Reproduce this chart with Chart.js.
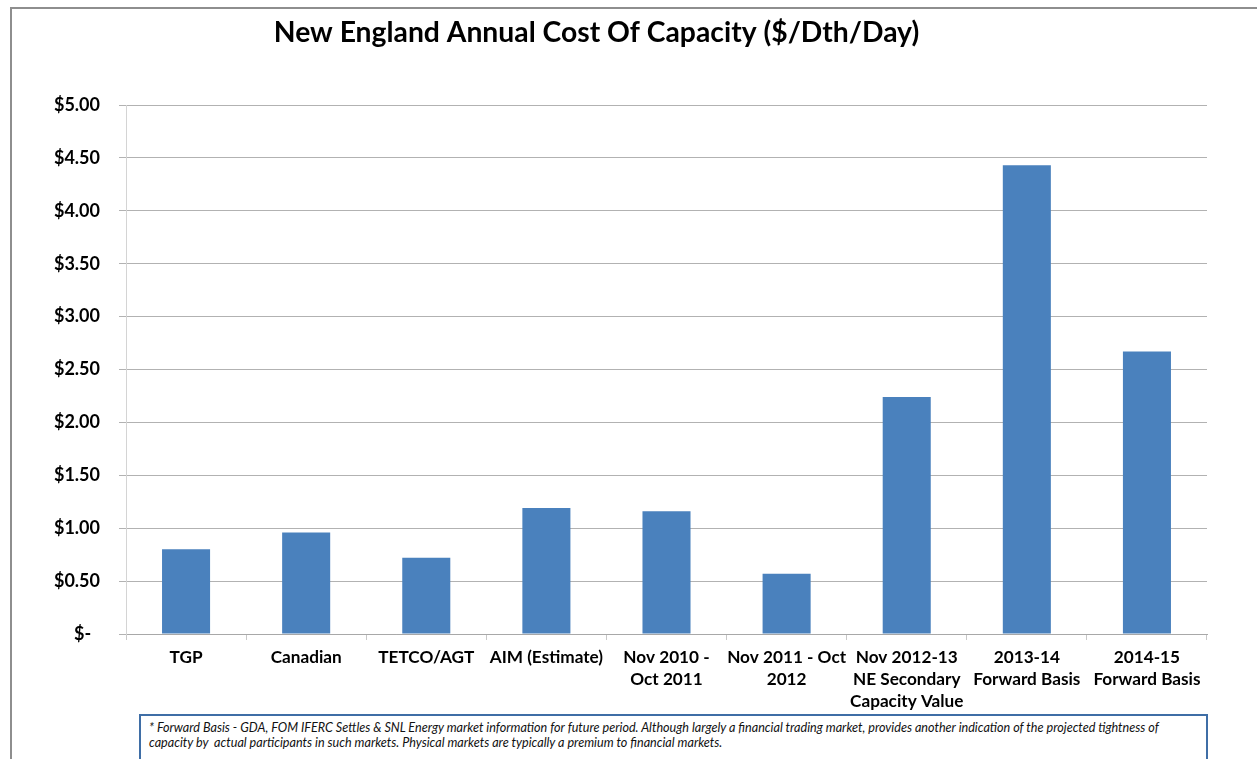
<!DOCTYPE html>
<html>
<head>
<meta charset="utf-8">
<script src="https://cdn.jsdelivr.net/npm/chart.js@4.4.1/dist/chart.umd.min.js"></script>
<style>
  html, body { margin: 0; padding: 0; background: #ffffff; }
  #wrap { position: relative; width: 1257px; height: 759px; overflow: hidden; background: #fff; }
  #frameTop { position: absolute; left: 10px; top: 7px; width: 1247px; height: 2px; background: #8e8e8e; }
  #frameLeft { position: absolute; left: 10px; top: 7px; width: 2px; height: 752px; background: #8e8e8e; }
  canvas { position: absolute; left: -14px; top: 0; }
  #note { position: absolute; left: 139px; top: 714px; width: 1069px; height: 60px;
          border: 2px solid #3f6ea6; box-sizing: border-box; background: #fff;
          font-family: Lato, "Noto Sans", sans-serif; font-style: italic; font-size: 12.6px;
          line-height: 15px; color: #111; padding: 4px 0 0 8px; white-space: nowrap; }
</style>
</head>
<body>
<div id="wrap">
  <canvas id="c" width="1271" height="759"></canvas>
  <div id="frameTop"></div>
  <div id="frameLeft"></div>
  <div id="note">* Forward Basis - GDA, FOM IFERC Settles &amp; SNL Energy market information for future period. Although largely a financial trading market, provides another indication of the projected tightness of<br>capacity by&nbsp; actual participants in such markets. Physical markets are typically a premium to financial markets.</div>
</div>
<script>
const chartTitle = "New England Annual Cost Of Capacity ($/Dth/Day)";
const categories = [
  ["TGP"],
  ["Canadian"],
  ["TETCO/AGT"],
  ["AIM (Estimate)"],
  ["Nov 2010 -", "Oct 2011"],
  ["Nov 2011 - Oct", "2012"],
  ["Nov 2012-13", "NE Secondary", "Capacity Value"],
  ["2013-14", "Forward Basis"],
  ["2014-15", "Forward Basis"]
];
const costValues = [0.80, 0.96, 0.72, 1.19, 1.16, 0.57, 2.24, 4.43, 2.67];
const yTickValues = [0, 0.5, 1.0, 1.5, 2.0, 2.5, 3.0, 3.5, 4.0, 4.5, 5.0];
const yTickLabels = ["$-  ", "$0.50", "$1.00", "$1.50", "$2.00", "$2.50", "$3.00", "$3.50", "$4.00", "$4.50", "$5.00"];

const FONT = 'Lato, "Noto Sans", sans-serif';

new Chart(document.getElementById('c'), {
  type: 'bar',
  data: {
    labels: categories,
    datasets: [{
      data: costValues,
      backgroundColor: '#4a81bd',
      borderWidth: 0,
      categoryPercentage: 1.0,
      barPercentage: 0.4
    }]
  },
  options: {
    responsive: false,
    animation: false,
    layout: { padding: { left: 0, right: 50, top: 0, bottom: 45 } },
    plugins: {
      legend: { display: false },
      tooltip: { enabled: false },
      title: {
        display: true,
        text: chartTitle,
        color: '#000',
        font: { family: FONT, size: 28.3, weight: 'bold', lineHeight: 1.2 },
        padding: { top: 16, bottom: 55.04 }
      }
    },
    scales: {
      x: {
        grid: { display: true, drawOnChartArea: false, drawTicks: true, tickLength: 6, color: '#c8c8c8', offset: true },
        border: { display: true, color: '#a8a8a8' },
        ticks: { color: '#000', font: { family: FONT, size: 17.2, weight: 'bold', lineHeight: 1.28 }, padding: 6, maxRotation: 0, autoSkip: false },
        afterFit: (s) => { s.height = 80; }
      },
      y: {
        min: 0, max: 5,
        afterBuildTicks: (s) => { s.ticks = yTickValues.map(v => ({ value: v })); },
        grid: { color: '#b2b2b2', tickLength: 7, drawTicks: true },
        border: { display: true, color: '#d4d4d4' },
        ticks: {
          color: '#000',
          font: { family: FONT, size: 18, weight: 'bold' },
          padding: 19,
          callback: (v) => { const i = yTickValues.indexOf(v); return i >= 0 ? yTickLabels[i] : ''; }
        },
        afterFit: (s) => { s.width = 140; }
      }
    }
  }
});
</script>
</body>
</html>
